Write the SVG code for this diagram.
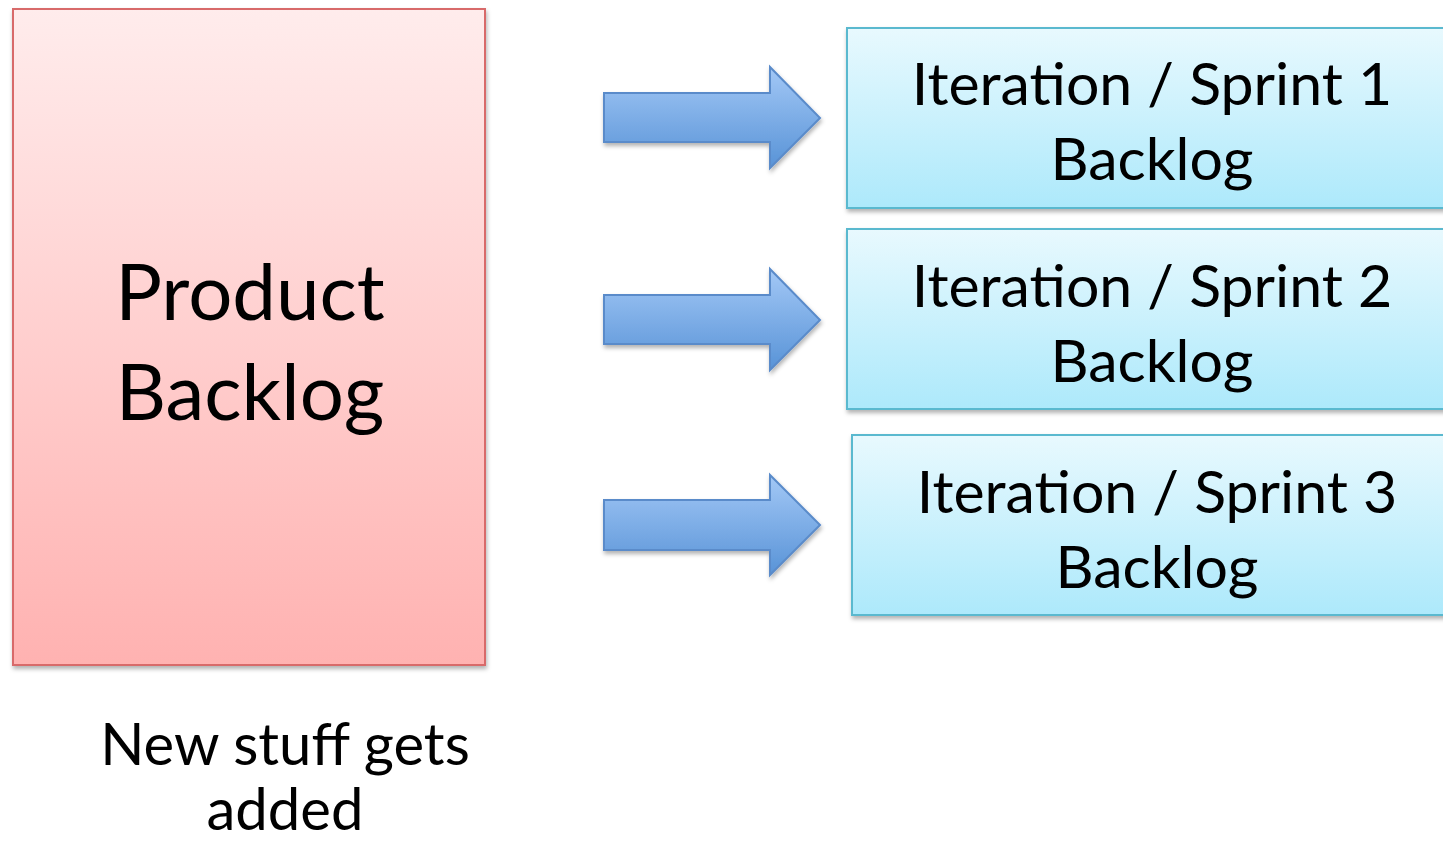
<svg xmlns="http://www.w3.org/2000/svg" width="1443" height="844" viewBox="0 0 1443 844">
<defs>
<linearGradient id="gRed" x1="0" y1="0" x2="0" y2="1"><stop offset="0" stop-color="#ffecec"/><stop offset="1" stop-color="#ffb2b1"/></linearGradient>
<linearGradient id="gBlue" x1="0" y1="0" x2="0" y2="1"><stop offset="0" stop-color="#e8f9fe"/><stop offset="1" stop-color="#ade9fb"/></linearGradient>
<linearGradient id="gArrow" x1="0" y1="0" x2="0" y2="1"><stop offset="0" stop-color="#a3c8f6"/><stop offset="1" stop-color="#5893d7"/></linearGradient>
<filter id="sh" x="-5%" y="-5%" width="110%" height="115%"><feDropShadow dx="1" dy="3" stdDeviation="2" flood-color="#000" flood-opacity="0.3"/></filter>
<style>
.t{font-family:"Lato","Open Sans",sans-serif;fill:#000;text-anchor:middle}
.it{font-size:59px}
.pb{font-size:78px}
.ns{font-size:58px}
.box{fill:url(#gBlue);stroke:#5ab9cf;stroke-width:2;filter:url(#sh)}
.arr{fill:url(#gArrow);stroke:#5a8bca;stroke-width:2;filter:url(#sh)}
</style>
</defs>
<rect width="1443" height="844" fill="#fff"/>
<g id="product-backlog">
<rect x="13" y="9" width="472" height="656" fill="url(#gRed)" stroke="#d86b6b" stroke-width="2" filter="url(#sh)"/>
<text class="t pb" x="250" y="320">Product</text>
<text class="t pb" x="250" y="420">Backlog</text>
</g>
<g id="note">
<text class="t ns" x="285" y="765">New stuff gets</text>
<text class="t ns" x="285" y="830">added</text>
</g>
<g id="connectors">
<path class="arr" d="M604,93 H770 V67 L820,118 L770,168 V142 H604 Z"/>
<path class="arr" d="M604,295 H770 V269 L820,320 L770,370 V344 H604 Z"/>
<path class="arr" d="M604,500 H770 V475 L820,525 L770,575 V550 H604 Z"/>
</g>
<g id="sprint1">
<rect class="box" x="847" y="28" width="610" height="180"/>
<text class="t it" x="1152" y="105">Iteration / Sprint 1</text>
<text class="t it" x="1152" y="180">Backlog</text>
</g>
<g id="sprint2">
<rect class="box" x="847" y="229" width="610" height="180"/>
<text class="t it" x="1152" y="307">Iteration / Sprint 2</text>
<text class="t it" x="1152" y="382">Backlog</text>
</g>
<g id="sprint3">
<rect class="box" x="852" y="435" width="610" height="180"/>
<text class="t it" x="1157" y="513">Iteration / Sprint 3</text>
<text class="t it" x="1157" y="588">Backlog</text>
</g>
</svg>
